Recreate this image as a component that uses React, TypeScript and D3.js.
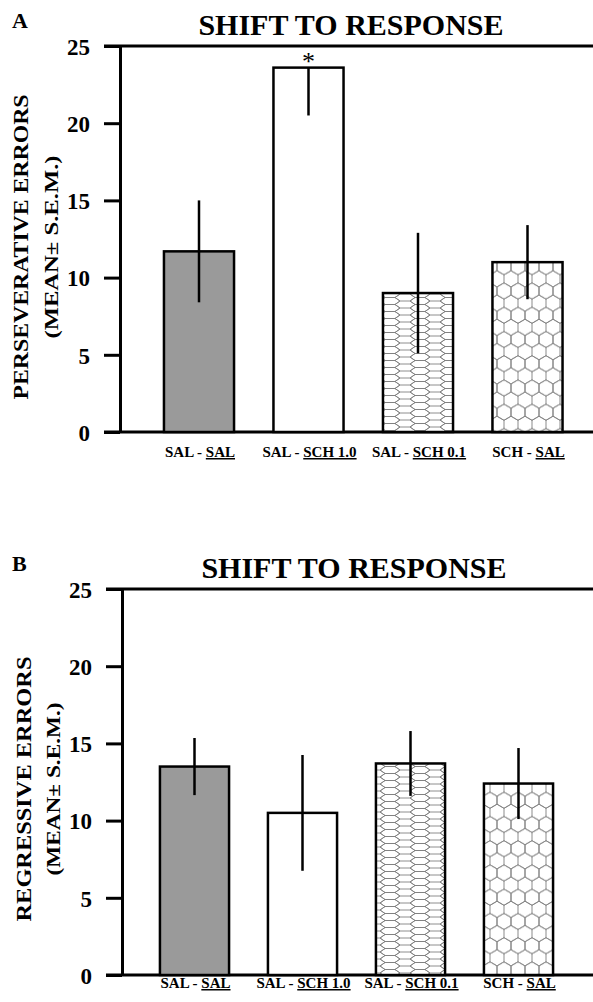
import { useRef, useEffect } from "react";
import * as d3 from "d3";

// treatment groups (second half of each label is underlined)
const labelLeft = ["SAL - ", "SAL - ", "SAL - ", "SCH - "];
const labelUnder = ["SAL", "SCH 1.0", "SCH 0.1", "SAL"];
const groups = labelLeft.map((l, i) => l + labelUnder[i]);

// panel A: perseverative errors
const persevMean = [11.7, 23.6, 9.0, 11.0];
const persevSem = [3.3, 3.1, 3.9, 2.4];
const persevStar = [false, true, false, false];

// panel B: regressive errors
const regressMean = [13.5, 10.5, 13.7, 12.4];
const regressSem = [1.85, 3.75, 2.1, 2.3];
const regressStar = [false, false, false, false];

const yTicks = [0, 5, 10, 15, 20, 25];

const FONT = "'Liberation Serif', 'Times New Roman', serif";
const barFills = ["#9a9a9a", "#ffffff", "url(#hexFlat)", "url(#hexRound)"];

export default function App() {
  const svgRef = useRef<SVGSVGElement>(null);

  useEffect(() => {
    const svg = d3.select(svgRef.current);
    svg.selectAll("*").remove();

    // hatch patterns
    const defs = svg.append("defs");
    // squashed honeycomb (flat-top, wide)
    {
      const W = 20, H = 7;
      const p = defs.append("pattern").attr("id", "hexFlat")
        .attr("patternUnits", "userSpaceOnUse")
        .attr("width", 1.5 * W).attr("height", H);
      p.append("rect").attr("width", 1.5 * W).attr("height", H).attr("fill", "#fff");
      const hex = (cx, cy) =>
        `M${cx - W / 2},${cy}L${cx - W / 4},${cy - H / 2}L${cx + W / 4},${cy - H / 2}L${cx + W / 2},${cy}L${cx + W / 4},${cy + H / 2}L${cx - W / 4},${cy + H / 2}Z`;
      p.append("path")
        .attr("d", [[0, 0], [0, H], [1.5 * W, 0], [1.5 * W, H], [0.75 * W, H / 2]].map(c => hex(c[0], c[1])).join(""))
        .attr("fill", "none").attr("stroke", "#808080").attr("stroke-width", 0.9);
    }
    // regular honeycomb (pointy-top)
    {
      const w = 14, r = w / Math.sqrt(3);
      const p = defs.append("pattern").attr("id", "hexRound")
        .attr("patternUnits", "userSpaceOnUse")
        .attr("width", w).attr("height", 3 * r);
      p.append("rect").attr("width", w).attr("height", 3 * r).attr("fill", "#fff");
      const hex = (cx, cy) =>
        `M${cx},${cy - r}L${cx + w / 2},${cy - r / 2}L${cx + w / 2},${cy + r / 2}L${cx},${cy + r}L${cx - w / 2},${cy + r / 2}L${cx - w / 2},${cy - r / 2}Z`;
      p.append("path")
        .attr("d", [[0, 0], [w, 0], [w / 2, 1.5 * r], [0, 3 * r], [w, 3 * r]].map(c => hex(c[0], c[1])).join(""))
        .attr("fill", "none").attr("stroke", "#808080").attr("stroke-width", 0.9);
    }

    function drawPanel(o) {
      const g = svg.append("g");
      const y = d3.scaleLinear().domain([0, 25]).range([o.bottom, o.top]);
      const x = d3.scaleBand().domain(groups)
        .range([o.x0, o.x0 + 4 * o.step])
        .paddingInner(0.36).paddingOuter(0.18);

      // letter + title
      g.append("text").attr("x", 12).attr("y", o.top - 18).text(o.letter)
        .attr("font-family", FONT).attr("font-weight", "bold").attr("font-size", 22);
      g.append("text").attr("x", o.titleX).attr("y", o.top - 11).text("SHIFT TO RESPONSE")
        .attr("text-anchor", "middle")
        .attr("font-family", FONT).attr("font-weight", "bold").attr("font-size", 30);

      // frame top and baseline
      g.append("line").attr("x1", o.axisX - 16).attr("x2", 593)
        .attr("y1", y(25)).attr("y2", y(25)).attr("stroke", "#000").attr("stroke-width", 3);
      g.append("line").attr("x1", o.axisX - 16).attr("x2", 593)
        .attr("y1", y(0)).attr("y2", y(0)).attr("stroke", "#000").attr("stroke-width", 3);

      // y axis
      const ax = g.append("g").attr("transform", `translate(${o.axisX},0)`)
        .call(d3.axisLeft(y).tickValues(yTicks).tickSize(16).tickSizeOuter(0).tickPadding(14));
      ax.select(".domain").attr("stroke-width", 3);
      ax.selectAll(".tick line").attr("stroke-width", 3);
      ax.selectAll(".tick text")
        .attr("font-family", FONT).attr("font-weight", "bold").attr("font-size", 23)
        .attr("fill", "#000").attr("dy", "0.36em");

      // y axis title (two lines)
      g.append("text")
        .attr("transform", `translate(${o.lab1X},${o.labY}) rotate(-90)`)
        .attr("text-anchor", "middle").attr("dy", "0.35em")
        .attr("textLength", o.lab1Len).attr("lengthAdjust", "spacingAndGlyphs")
        .attr("font-family", FONT).attr("font-weight", "bold").attr("font-size", 22)
        .text(o.yTitle);
      g.append("text")
        .attr("transform", `translate(${o.lab2X},${o.labY}) rotate(-90)`)
        .attr("text-anchor", "middle").attr("dy", "0.35em")
        .attr("textLength", o.lab2Len).attr("lengthAdjust", "spacingAndGlyphs")
        .attr("font-family", FONT).attr("font-weight", "bold").attr("font-size", 19)
        .text("(MEAN\u00B1 S.E.M.)");

      // bars
      g.selectAll("rect.bar").data(o.mean).join("rect").attr("class", "bar")
        .attr("x", (d, i) => x(groups[i]))
        .attr("width", x.bandwidth())
        .attr("y", d => y(d))
        .attr("height", d => y(0) - y(d))
        .attr("fill", (d, i) => barFills[i])
        .attr("stroke", "#000").attr("stroke-width", 2.5);

      // error bars (upper half dropped when it runs off the scale)
      g.selectAll("line.err").data(o.mean).join("line").attr("class", "err")
        .attr("x1", (d, i) => x(groups[i]) + x.bandwidth() / 2)
        .attr("x2", (d, i) => x(groups[i]) + x.bandwidth() / 2)
        .attr("y1", (d, i) => y(d - o.sem[i]))
        .attr("y2", (d, i) => (d + o.sem[i] > 25 ? y(d) : y(d + o.sem[i])))
        .attr("stroke", "#000").attr("stroke-width", 2.5);

      // significance marks
      g.selectAll("text.star").data(o.mean.filter((d, i) => o.star[i]).map((d, k) => k)).join("text")
        .attr("class", "star");
      o.star.forEach((s, i) => {
        if (!s) return;
        g.append("text")
          .attr("x", x(groups[i]) + x.bandwidth() / 2)
          .attr("y", y(o.mean[i]) + 2)
          .attr("text-anchor", "middle")
          .attr("font-family", FONT).attr("font-size", 26)
          .text("*");
      });

      // category labels
      groups.forEach((gname, i) => {
        const t = g.append("text")
          .attr("x", x(gname) + x.bandwidth() / 2 + 1)
          .attr("y", o.catY)
          .attr("text-anchor", "middle")
          .attr("font-family", FONT).attr("font-weight", "bold").attr("font-size", 15);
        t.append("tspan").text(labelLeft[i]);
        t.append("tspan").attr("text-decoration", "underline")
          .style("text-decoration", "underline").text(labelUnder[i]);
      });
    }

    drawPanel({
      letter: "A", top: 46, bottom: 432, axisX: 120, x0: 144.25, step: 109.5,
      titleX: 351, mean: persevMean, sem: persevSem, star: persevStar,
      yTitle: "PERSEVERATIVE  ERRORS", lab1X: 20, lab1Len: 305, lab2X: 51, lab2Len: 183, labY: 247,
      catY: 457,
    });
    drawPanel({
      letter: "B", top: 589, bottom: 975, axisX: 122, x0: 140.5, step: 108,
      titleX: 354, mean: regressMean, sem: regressSem, star: regressStar,
      yTitle: "REGRESSIVE ERRORS", lab1X: 23, lab1Len: 265, lab2X: 53, lab2Len: 173, labY: 789,
      catY: 988,
    });
  }, []);

  return (
    <svg
      ref={svgRef}
      width={593}
      height={1002}
      style={{ position: "absolute", left: 0, top: 0, background: "#fff" }}
    />
  );
}
